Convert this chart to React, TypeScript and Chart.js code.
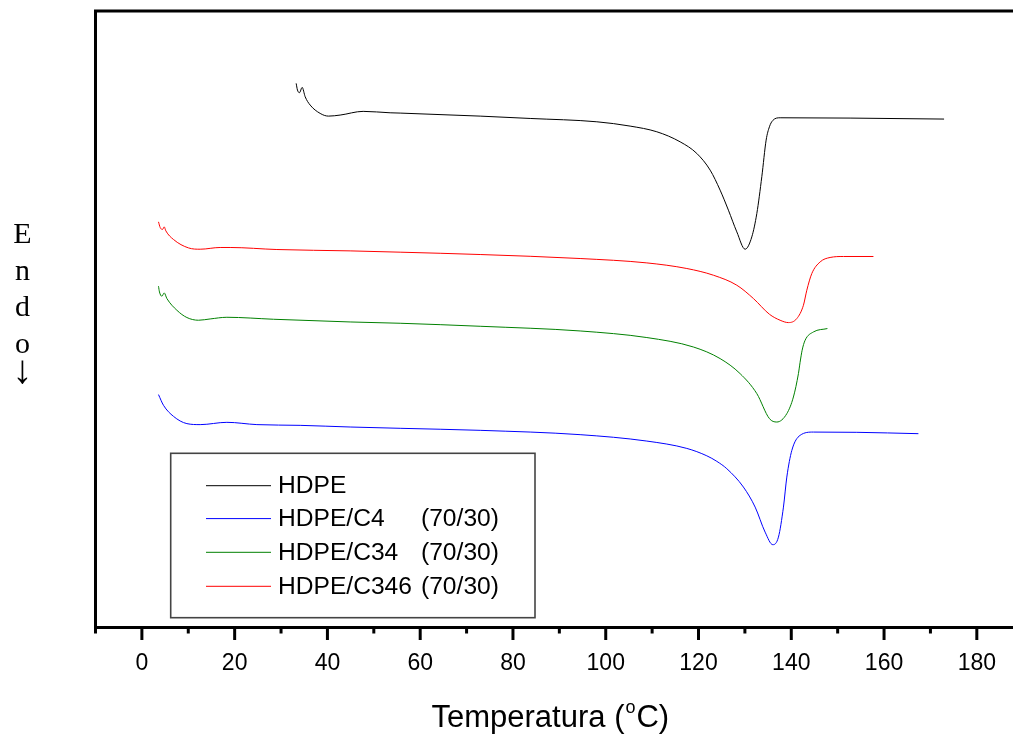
import React, { useEffect, useRef } from 'react';
import { Chart, registerables } from 'chart.js';

Chart.register(...registerables);

// ---- Data (temperature in °C, heat flow in arbitrary units, endo down) ----
const hdpeT = [33.26, 33.54, 33.97, 34.55, 35.2, 36.28, 38.43, 40.22, 42.74, 47.7, 53.52, 55.68, 72.93, 83.71, 98.08, 105.26, 111.01, 116.04, 119.64, 122.51, 124.66, 126.45, 128.26, 130.05, 131.49, 132.57, 133.65, 134.58, 135.29, 135.98, 137.6, 152.68, 172.94];
const hdpeV = [88.26, 87.18, 86.74, 87.61, 86.09, 84.74, 83.39, 82.95, 83.12, 83.72, 83.49, 83.44, 82.95, 82.57, 82.03, 81.33, 80.41, 78.78, 76.89, 74.19, 70.94, 67.69, 64.17, 61.36, 63.36, 67.15, 73.13, 79.06, 81.22, 82.22, 82.68, 82.63, 82.47];

const c4T = [3.58, 4.66, 6.81, 9.7, 12.57, 18.32, 24.79, 34.12, 44.9, 55.68, 72.93, 94.48, 108.86, 117.48, 121.79, 123.95, 126.1, 129.68, 132.21, 134.36, 136.02, 137.23, 138.31, 139.04, 140.12, 141.9, 144.77, 154.13, 167.41];
const c4V = [37.78, 36.04, 34.25, 33.07, 32.91, 33.28, 32.91, 32.79, 32.52, 32.31, 31.98, 31.28, 30.24, 29.05, 27.85, 26.95, 25.76, 22.78, 19.53, 15.47, 13.43, 14.66, 19.53, 24.4, 28.73, 31.17, 31.7, 31.66, 31.44];

const c34T = [3.58, 3.79, 4.31, 4.81, 5.39, 7.54, 9.7, 12.2, 14.72, 18.32, 28.37, 44.9, 55.68, 72.93, 94.48, 108.86, 118.9, 124.66, 128.97, 132.57, 135.29, 136.88, 139.04, 140.46, 141.54, 141.9, 142.34, 142.98, 144.77, 147.79];
const c34V = [55.36, 54.43, 53.73, 54.27, 53.36, 51.46, 50.28, 49.84, 50.05, 50.32, 50.0, 49.56, 49.35, 48.86, 48.1, 47.03, 45.5, 43.62, 41.18, 37.94, 33.88, 33.33, 34.69, 37.39, 41.18, 43.02, 44.97, 46.59, 47.94, 48.49];

const c346T = [3.58, 3.94, 4.44, 4.81, 5.17, 6.81, 10.05, 12.57, 16.88, 19.03, 29.1, 44.9, 55.68, 72.93, 94.48, 108.86, 117.48, 123.22, 128.26, 131.84, 135.29, 137.59, 139.38, 141.19, 142.62, 143.35, 144.43, 146.22, 148.37, 151.24, 157.71];
const c346V = [65.8, 64.89, 64.56, 64.98, 64.33, 62.94, 61.57, 61.36, 61.64, 61.64, 61.31, 61.09, 60.88, 60.5, 59.85, 59.14, 58.23, 57.14, 55.52, 53.36, 50.81, 49.84, 49.46, 50.11, 52.27, 54.71, 57.42, 59.3, 60.02, 60.18, 60.18];

const seriesNames = ['HDPE', 'HDPE/C4', 'HDPE/C34', 'HDPE/C346'];
const seriesRatios = ['', '(70/30)', '(70/30)', '(70/30)'];
const seriesColors = ['#000000', '#0000ff', '#008000', '#ff0000'];

const xTickValues = [-10, 0, 10, 20, 30, 40, 50, 60, 70, 80, 90, 100, 110, 120, 130, 140, 150, 160, 170, 180];
const xMajorStep = 20;
const xTitleMain = 'Temperatura (';
const xTitleSup = 'o';
const xTitleEnd = 'C)';
const yTitleChars = ['E', 'n', 'd', 'o', '↓'];

const toPoints = (t: number[], v: number[]) => t.map((x, i) => ({ x, y: v[i] }));

const SANS = '"Liberation Sans", Arial, sans-serif';
const SERIF = '"Liberation Serif", "Times New Roman", serif';

const decorPlugin = {
  id: 'decor',
  afterDraw(chart: any) {
    const { ctx, chartArea } = chart;
    const xs = chart.scales.x;
    const { left, right, top, bottom } = chartArea;
    ctx.save();
    // axes frame
    ctx.strokeStyle = '#000';
    ctx.lineWidth = 3;
    ctx.lineCap = 'butt';
    ctx.beginPath();
    ctx.moveTo(left, top);
    ctx.lineTo(right, top);
    ctx.moveTo(left, top - 1.5);
    ctx.lineTo(left, bottom + 1.5);
    ctx.moveTo(left - 1.5, bottom);
    ctx.lineTo(right, bottom);
    ctx.stroke();
    // ticks
    xTickValues.forEach((v) => {
      const px = xs.getPixelForValue(v);
      const major = v % xMajorStep === 0;
      ctx.beginPath();
      ctx.moveTo(px, bottom);
      ctx.lineTo(px, bottom + (major ? 12.5 : 6));
      ctx.stroke();
    });
    // legend box
    const bx = 170.7, by = 453.3, bw = 364.3, bh = 164.4;
    ctx.lineWidth = 1.6;
    ctx.strokeStyle = '#444';
    ctx.strokeRect(bx, by, bw, bh);
    const rowY = [485.7, 518.6, 552.3, 586.3];
    ctx.font = `24.6px ${SANS}`;
    ctx.textBaseline = 'middle';
    ctx.textAlign = 'left';
    seriesNames.forEach((name, i) => {
      ctx.strokeStyle = seriesColors[i];
      ctx.lineWidth = 1;
      ctx.beginPath();
      ctx.moveTo(206, rowY[i]);
      ctx.lineTo(271, rowY[i]);
      ctx.stroke();
      ctx.fillStyle = '#000';
      ctx.fillText(name, 278, rowY[i] + 1);
      if (seriesRatios[i]) ctx.fillText(seriesRatios[i], 421, rowY[i] + 1);
    });
    // y title (vertical letters)
    ctx.textAlign = 'center';
    ctx.textBaseline = 'alphabetic';
    yTitleChars.forEach((ch, i) => {
      if (i === 4) {
        ctx.font = `40px ${SERIF}`;
        ctx.fillText(ch, 22.5, 382.5);
      } else {
        ctx.font = `30px ${SERIF}`;
        ctx.fillText(ch, 22.5, 243 + i * 36.5);
      }
    });
    // x title with superscript
    ctx.textAlign = 'left';
    ctx.font = `31px ${SANS}`;
    let x0 = 431.5;
    const base = 727;
    ctx.fillText(xTitleMain, x0, base);
    x0 += ctx.measureText(xTitleMain).width;
    ctx.font = `18px ${SANS}`;
    ctx.fillText(xTitleSup, x0 + 1, base - 14);
    x0 += ctx.measureText(xTitleSup).width + 1;
    ctx.font = `31px ${SANS}`;
    ctx.fillText(xTitleEnd, x0 + 1, base);
    ctx.restore();
  },
};

export default function App() {
  const ref = useRef<HTMLCanvasElement | null>(null);
  useEffect(() => {
    if (!ref.current) return;
    const mk = (label: string, t: number[], v: number[], color: string) => ({
      label,
      data: toPoints(t, v),
      borderColor: color,
      backgroundColor: color,
      borderWidth: 1,
      pointRadius: 0,
      fill: false,
      cubicInterpolationMode: 'monotone' as const,
    });
    const chart = new Chart(ref.current, {
      type: 'line',
      data: {
        datasets: [
          mk(seriesNames[0], hdpeT, hdpeV, seriesColors[0]),
          mk(seriesNames[1], c4T, c4V, seriesColors[1]),
          mk(seriesNames[2], c34T, c34V, seriesColors[2]),
          mk(seriesNames[3], c346T, c346V, seriesColors[3]),
        ],
      },
      options: {
        animation: false,
        responsive: false,
        devicePixelRatio: 1,
        layout: { padding: { left: 95.5, top: 11, right: 0, bottom: 0 } },
        plugins: { legend: { display: false }, tooltip: { enabled: false } },
        scales: {
          x: {
            type: 'linear',
            min: -10,
            max: 187.8,
            afterBuildTicks: (s: any) => {
              s.ticks = xTickValues.map((v) => ({ value: v }));
            },
            afterFit: (s: any) => {
              s.height = 108.5;
            },
            grid: { display: false },
            border: { display: false },
            ticks: {
              autoSkip: false,
              maxRotation: 0,
              padding: 14,
              color: '#000',
              font: { family: SANS, size: 23 },
              callback: (v: any) => (Number(v) >= 0 && Number(v) % xMajorStep === 0 ? String(v) : ''),
            },
          },
          y: {
            type: 'linear',
            display: false,
            min: 0,
            max: 100,
          },
        },
      },
      plugins: [decorPlugin],
    });
    return () => chart.destroy();
  }, []);
  return (
    <div style={{ position: 'fixed', left: 0, top: 0, width: 1013, height: 736, background: '#fff' }}>
      <canvas ref={ref} width={1013} height={736} style={{ width: 1013, height: 736, display: 'block' }} />
    </div>
  );
}
